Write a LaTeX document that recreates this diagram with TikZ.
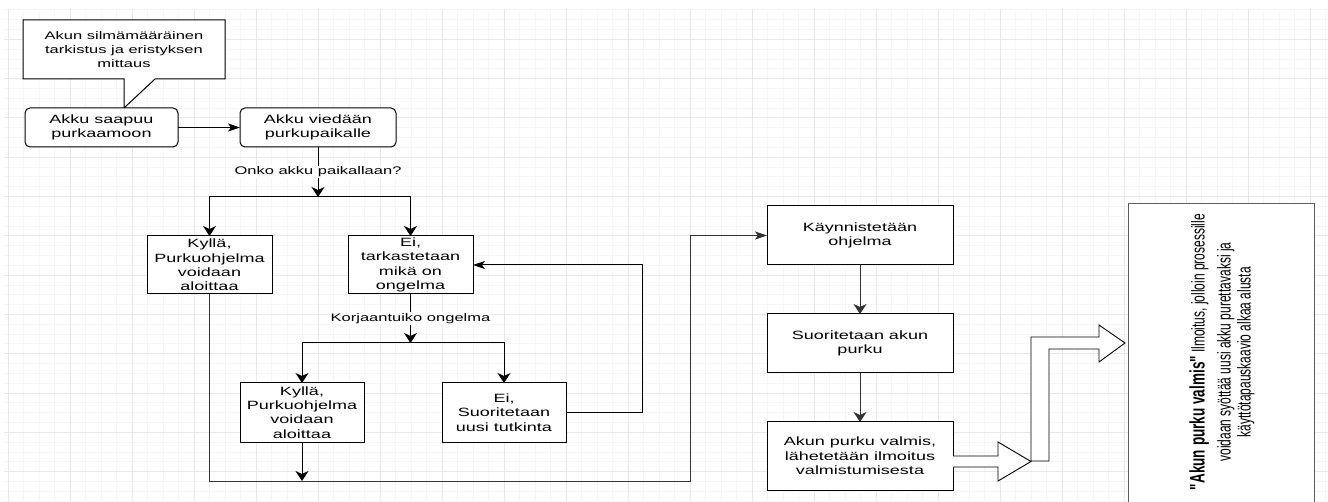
\documentclass[tikz,border=0pt]{standalone}
\usepackage{fontspec}
\setmainfont{Liberation Sans}
\newfontfamily\df[FakeStretch=1.5]{Liberation Sans}
\newfontfamily\rf[FakeStretch=0.645]{Liberation Sans}
\usetikzlibrary{arrows.meta}
\definecolor{gmin}{HTML}{F6F6F6}
\definecolor{gmaj}{HTML}{E8E8E8}
\definecolor{lnc}{HTML}{333333}
\tikzset{
  box/.style={draw=black, fill=white, line width=1pt, inner sep=0pt, outer sep=0pt,
    align=center, text=black, font=\df\fontsize{12}{14.4}\selectfont},
  rbox/.style={box, rounded corners=5pt},
  lbl/.style={fill=white, inner sep=1pt, text=black, font=\df\fontsize{11}{13}\selectfont},
  conn/.style={draw=black, line width=1pt},
  harr/.style={conn, -{Stealth[length=12pt,width=8pt,inset=3pt]}},
  varr/.style={conn, -{Stealth[length=10pt,width=13pt,inset=3pt]}},
  garr/.style={draw=lnc, line width=1pt, -{Stealth[length=10pt,width=13pt,inset=3pt]}},
  gharr/.style={draw=lnc, line width=1pt, -{Stealth[length=12pt,width=8pt,inset=3pt]}},
  blockarrow/.style={draw=black, fill=white, line width=0.9pt, line join=miter},
}
\begin{document}
\begin{tikzpicture}[x=1pt,y=-1pt]
\useasboundingbox (0,0) rectangle (1328,502);
\fill[white] (0,0) rectangle (1328,502);
% grid
\foreach \i in {0,...,85} {\draw[gmin, line width=0.8pt] ({8+15.5*\i},9) -- ({8+15.5*\i},502);}
\foreach \i in {1,...,51} {\draw[gmin, line width=0.8pt] (4,{9.825*\i}) -- (1328,{9.825*\i});}
\foreach \i in {0,...,21} {\draw[gmaj, line width=0.9pt] ({8+62*\i},9) -- ({8+62*\i},502);}
\foreach \i in {1,...,12} {\draw[gmaj, line width=0.9pt] (4,{39.3*\i}) -- (1328,{39.3*\i});}

% callout
\draw[fill=white, line width=1pt, line join=miter] (23,20) -- (225,20) -- (225,79) -- (155,79) -- (124,108) -- (124,79) -- (23,79) -- cycle;
\node[align=center, inner sep=0pt, font=\df\fontsize{11}{14}\selectfont] (callout) at (124,49.5)
  {Akun silmämääräinen\\tarkistus ja eristyksen\\mittaus};

% nodes
\node[rbox, minimum width=153pt, minimum height=39pt] (saapuu) at (101.5,127.5) {Akku saapuu\\purkaamoon};
\node[rbox, minimum width=156pt, minimum height=39pt] (viedaan) at (318,127.5) {Akku viedään\\purkupaikalle};
\node[box, minimum width=125pt, minimum height=58pt] (k1) at (209.5,265) {Kyllä,\\Purkuohjelma\\voidaan\\aloittaa};
\node[box, minimum width=125pt, minimum height=58pt] (e1) at (410.5,265) {Ei,\\tarkastetaan\\mikä on\\ongelma};
\node[box, minimum width=124pt, minimum height=59pt] (k2) at (302,412.5) {Kyllä,\\Purkuohjelma\\voidaan\\aloittaa};
\node[box, minimum width=124pt, minimum height=59pt] (e2) at (504,412.5) {Ei,\\Suoritetaan\\uusi tutkinta};
\node[box, minimum width=186pt, minimum height=59pt] (kay) at (860,235.5) {Käynnistetään\\ohjelma};
\node[box, minimum width=186pt, minimum height=59pt] (suor) at (860,343.5) {Suoritetaan akun\\purku};
\node[box, minimum width=186pt, minimum height=68pt] (akun) at (860,456) {Akun purku valmis,\\lähetetään ilmoitus\\valmistumisesta};

% right note box
\draw[draw=gray!75!black, fill=white, line width=1pt] (1128,204) rectangle (1314,515);
\node[rotate=90, align=center, inner sep=0pt, text=black, font=\rf\fontsize{18.6}{20}\selectfont] (note) at (1222,352)
  {{\fontsize{21}{20}\selectfont\bfseries "Akun purku valmis"} Ilmoitus, jolloin prosessille\\[6pt]
   voidaan syöttää uusi akku purettavaksi ja\\
   käyttötapauskaavio alkaa alusta};

% coordinates
\coordinate (j1) at (318,197);
\coordinate (j2) at (410.5,343);
\coordinate (lp) at (642,412.5);
\coordinate (k2end) at (302,481);
\coordinate (b1) at (209.5,481);
\coordinate (b2) at (690,481);

% connectors
\draw[harr] (saapuu) -- (viedaan);
\draw[varr] (viedaan) -- node[lbl, pos=0.5] {Onko akku paikallaan?} (j1);
\draw[varr] (j1) -| (k1);
\draw[varr] (j1) -| (e1);
\draw[varr] (e1) -- node[lbl, pos=0.5] {Korjaantuiko ongelma} (j2);
\draw[varr] (j2) -| (k2);
\draw[varr] (j2) -| (e2);
\draw[harr] (e2) -- (lp) |- (e1);
\draw[varr] (k2) -- (k2end);
\draw[gharr] (k1) -- (b1) -- (b2) |- (kay);
\draw[garr] (kay) -- (suor);
\draw[garr] (suor) -- (akun);

% block arrows
\draw[blockarrow] (953,456) -- (998,456) -- (998,442) -- (1031,461.5) -- (998,481) -- (998,467) -- (953,467);
\draw[blockarrow] (1031,461) -- (1031,337) -- (1099,337) -- (1099,325) -- (1125,343) -- (1099,362) -- (1099,349) -- (1049,349) -- (1049,461) -- cycle;
\end{tikzpicture}
\end{document}
